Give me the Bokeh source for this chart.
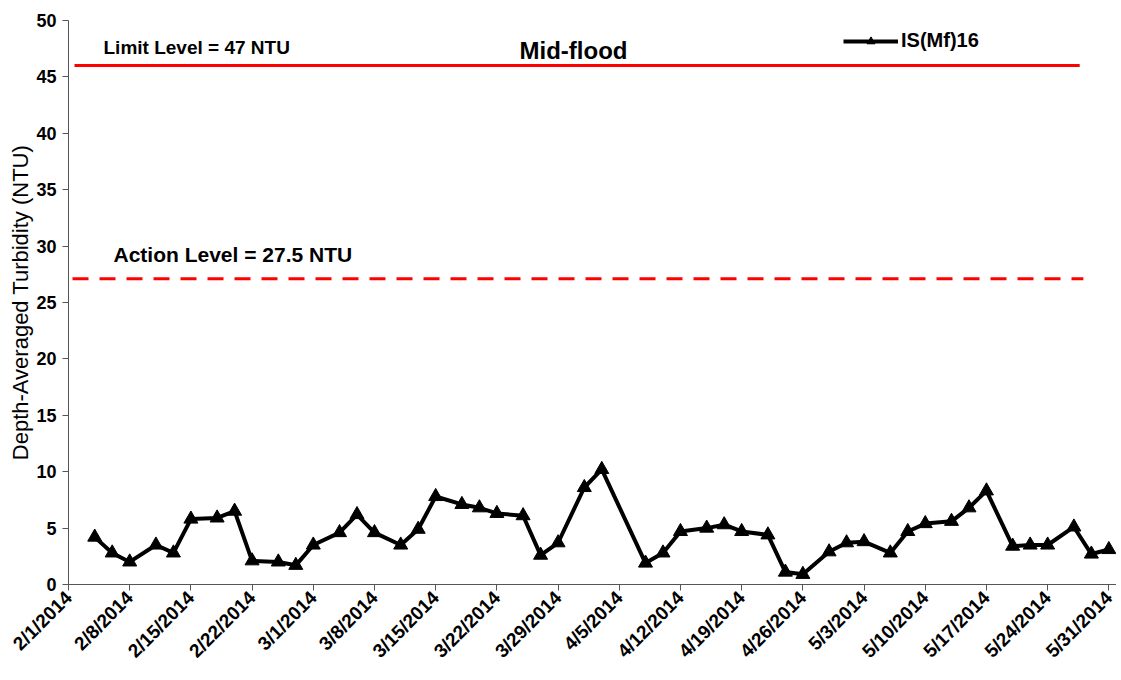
import pandas as pd
from bokeh.plotting import figure
from bokeh.models import Range1d, FixedTicker, Label, Legend, LegendItem
from bokeh.embed import file_html
from bokeh.resources import INLINE

# ---------------- data ----------------
sample_dates = [
    "2014-02-04", "2014-02-06", "2014-02-08", "2014-02-11", "2014-02-13", "2014-02-15",
    "2014-02-18", "2014-02-20", "2014-02-22", "2014-02-25", "2014-02-27", "2014-03-01",
    "2014-03-04", "2014-03-06", "2014-03-08", "2014-03-11", "2014-03-13", "2014-03-15",
    "2014-03-18", "2014-03-20", "2014-03-22", "2014-03-25", "2014-03-27", "2014-03-29",
    "2014-04-01", "2014-04-03", "2014-04-08", "2014-04-10", "2014-04-12", "2014-04-15",
    "2014-04-17", "2014-04-19", "2014-04-22", "2014-04-24", "2014-04-26", "2014-04-29",
    "2014-05-01", "2014-05-03", "2014-05-06", "2014-05-08", "2014-05-10", "2014-05-13",
    "2014-05-15", "2014-05-17", "2014-05-20", "2014-05-22", "2014-05-24", "2014-05-27",
    "2014-05-29", "2014-05-31",
]
turbidity = [
    4.2, 2.8, 2.0, 3.5, 2.8, 5.8,
    5.9, 6.5, 2.1, 2.0, 1.7, 3.5,
    4.6, 6.2, 4.6, 3.5, 4.9, 7.8,
    7.1, 6.8, 6.3, 6.1, 2.6, 3.7,
    8.6, 10.2, 1.9, 2.8, 4.7, 5.0,
    5.3, 4.7, 4.4, 1.1, 0.9, 2.9,
    3.7, 3.8, 2.8, 4.7, 5.4, 5.6,
    6.8, 8.3, 3.4, 3.5, 3.5, 5.1,
    2.7, 3.1,
]
series_name = "IS(Mf)16"

tick_dates = [
    "2014-02-01", "2014-02-08", "2014-02-15", "2014-02-22", "2014-03-01", "2014-03-08",
    "2014-03-15", "2014-03-22", "2014-03-29", "2014-04-05", "2014-04-12", "2014-04-19",
    "2014-04-26", "2014-05-03", "2014-05-10", "2014-05-17", "2014-05-24", "2014-05-31",
]
tick_labels = [
    "2/1/2014", "2/8/2014", "2/15/2014", "2/22/2014", "3/1/2014", "3/8/2014",
    "3/15/2014", "3/22/2014", "3/29/2014", "4/5/2014", "4/12/2014", "4/19/2014",
    "4/26/2014", "5/3/2014", "5/10/2014", "5/17/2014", "5/24/2014", "5/31/2014",
]
y_ticks = [0, 5, 10, 15, 20, 25, 30, 35, 40, 45, 50]

limit_dates = ["2014-02-01 16:30", "2014-05-27 16:00"]
limit_values = [46.0, 46.0]
action_dates = ["2014-02-01 11:00", "2014-05-28 02:00"]
action_values = [27.1, 27.1]

limit_text = "Limit Level = 47 NTU"
action_text = "Action Level = 27.5 NTU"
title_text = "Mid-flood"
y_label = "Depth-Averaged Turbidity (NTU)"

# ---------------- figure ----------------
FONT = "Liberation Sans"
x = pd.to_datetime(sample_dates)
tick_ms = [float(pd.Timestamp(d).value // 10**6) for d in tick_dates]

p = figure(
    width=1116, height=672,
    x_axis_type="datetime",
    x_range=Range1d(pd.Timestamp("2014-02-01"), pd.Timestamp("2014-05-31 21:00")),
    y_range=Range1d(0, 50),
    output_backend="svg", toolbar_location=None,
    min_border_left=68, min_border_right=0, min_border_top=20, min_border_bottom=87,
)
p.outline_line_color = None
p.xgrid.visible = False
p.ygrid.visible = False
p.background_fill_color = "white"
p.border_fill_color = "white"

# reference lines
p.line(pd.to_datetime(limit_dates), limit_values, line_color="#FF0000", line_width=3)
p.line(pd.to_datetime(action_dates), action_values, line_color="#FF0000", line_width=3,
       line_dash="16 11")

# data series
r_line = p.line(x, turbidity, line_color="black", line_width=4)
r_pts = p.scatter(x, turbidity, marker="triangle", size=14, fill_color="black",
                  line_color="black")

# axes
axis_color = "#555555"
p.xaxis.ticker = FixedTicker(ticks=tick_ms)
p.xaxis.major_label_overrides = {t: lab for t, lab in zip(tick_ms, tick_labels)}
p.xaxis.major_label_orientation = 0.785398
p.xaxis.major_label_text_font = FONT
p.xaxis.major_label_text_font_style = "bold"
p.xaxis.major_label_text_font_size = "19px"
p.xaxis.major_label_text_color = "black"
p.xaxis.major_label_standoff = 4
p.xaxis.minor_tick_line_color = None
p.xaxis.major_tick_in = 0
p.xaxis.major_tick_out = 6
p.xaxis.axis_line_color = axis_color
p.xaxis.major_tick_line_color = axis_color

p.yaxis.ticker = FixedTicker(ticks=y_ticks)
p.yaxis.major_label_text_font = FONT
p.yaxis.major_label_text_font_style = "bold"
p.yaxis.major_label_text_font_size = "18px"
p.yaxis.major_label_text_color = "black"
p.yaxis.major_label_standoff = 6
p.yaxis.minor_tick_line_color = None
p.yaxis.major_tick_in = 0
p.yaxis.major_tick_out = 6
p.yaxis.axis_line_color = axis_color
p.yaxis.major_tick_line_color = axis_color
p.yaxis.axis_label = y_label
p.yaxis.axis_label_text_font = FONT
p.yaxis.axis_label_text_font_style = "normal"
p.yaxis.axis_label_text_font_size = "22px"
p.yaxis.axis_label_text_color = "black"
p.yaxis.axis_label_standoff = 0

# text annotations
p.add_layout(Label(x=35, y=537, x_units="screen", y_units="screen", text=limit_text,
                   text_font=FONT, text_font_style="bold", text_font_size="19px",
                   text_color="black", text_baseline="alphabetic"))
p.add_layout(Label(x=45, y=330, x_units="screen", y_units="screen", text=action_text,
                   text_font=FONT, text_font_style="bold", text_font_size="21px",
                   text_color="black", text_baseline="alphabetic"))
p.add_layout(Label(x=505, y=534, x_units="screen", y_units="screen", text=title_text,
                   text_font=FONT, text_font_style="bold", text_font_size="24px",
                   text_color="black", text_align="center", text_baseline="alphabetic"))

# legend
legend = Legend(
    items=[LegendItem(label=series_name, renderers=[r_line, r_pts])],
    location=(775, 532),
    margin=0, padding=0, spacing=0,
    glyph_width=55, glyph_height=20, label_height=20, label_standoff=3,
    label_text_font=FONT, label_text_font_style="bold", label_text_font_size="20px",
    label_text_color="black",
    border_line_alpha=0, background_fill_alpha=0,
)
p.add_layout(legend)

open("out.html", "w").write(file_html(p, INLINE))
